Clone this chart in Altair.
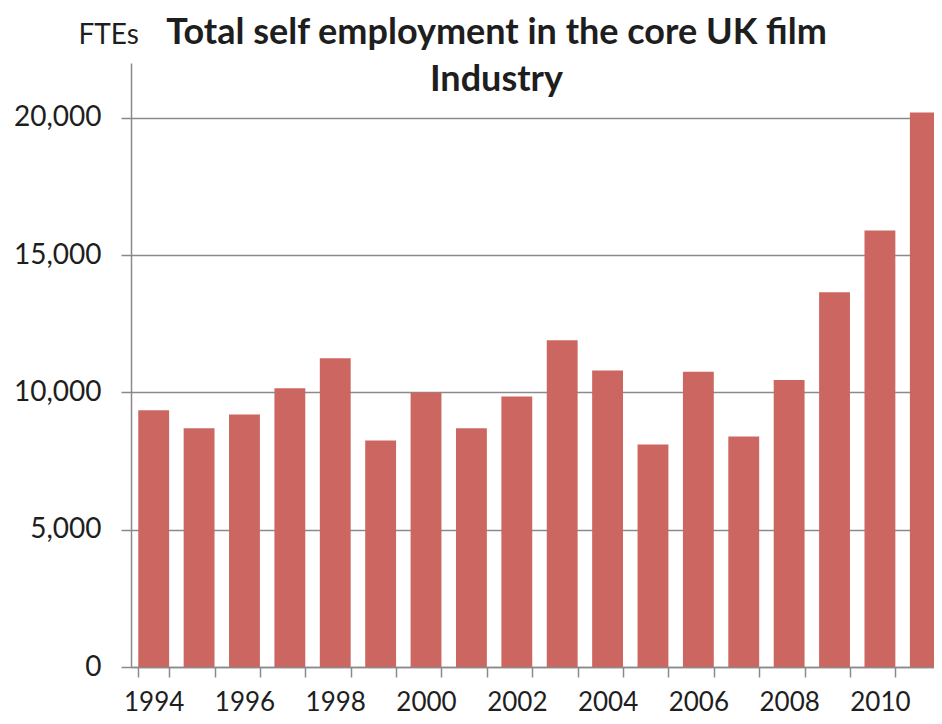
import altair as alt
import pandas as pd

years = [str(y) for y in range(1994, 2012)]
values = [9350, 8700, 9200, 10150, 11250, 8250, 10000, 8700, 9850,
          11900, 10800, 8100, 10750, 8400, 10450, 13650, 15900, 20200]
y_ticks = [0, 5000, 10000, 15000, 20000]
title_lines = ["Total  self employment in the core UK film", "Industry"]
y_title = "FTEs"

df = pd.DataFrame({"year": years, "value": values})

FONT = "Lato"
TXT = "#1e1e1e"
GRID = "#8a8a8a"

chart = alt.Chart(df).mark_bar(color="#cc6660").encode(
    x=alt.X("year:N", sort=years,
            scale=alt.Scale(paddingInner=0.32, paddingOuter=0.16, range=[0, 817]),
            axis=alt.Axis(title=None, labelAngle=0, tickBand="extent",
                          labelExpr="toNumber(datum.value) % 2 == 0 ? datum.label : ''",
                          tickSize=10, tickColor=GRID, tickWidth=1.5,
                          domainColor=GRID, domainWidth=1.5,
                          labelFont=FONT, labelFontSize=26, labelColor=TXT,
                          labelPadding=12, grid=False)),
    y=alt.Y("value:Q",
            scale=alt.Scale(domain=[0, 22000], nice=False),
            axis=alt.Axis(values=y_ticks, format=",d", title=y_title,
                          titleAngle=0, titleX=-53, titleY=-20,
                          titleAlign="left", titleBaseline="alphabetic",
                          titleFont=FONT, titleFontSize=28, titleFontWeight="normal",
                          titleColor=TXT,
                          tickSize=10, tickColor=GRID, tickWidth=1.5,
                          domainColor=GRID, domainWidth=1.5,
                          gridColor=GRID, gridWidth=1.5,
                          labelFont=FONT, labelFontSize=28, labelColor=TXT,
                          labelPadding=20)),
).properties(
    width=803,
    height=604,
    title=alt.TitleParams(text=title_lines, anchor="middle", font=FONT,
                          fontSize=36, fontWeight="bold", color=TXT,
                          lineHeight=47, baseline="alphabetic",
                          offset=-106, dx=-36),
    autosize=alt.AutoSizeParams(type="none"),
    padding={"left": 123, "top": 55, "right": 0, "bottom": 49},
).configure_view(stroke=None)

chart.save("out.html", embed_options={"renderer": "svg", "actions": False})
